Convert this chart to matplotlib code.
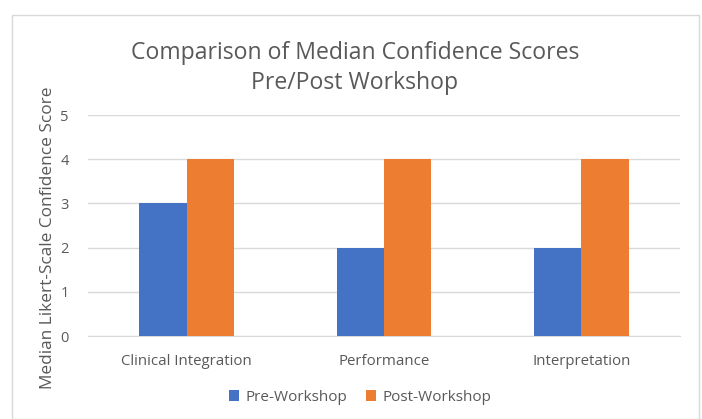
import matplotlib
matplotlib.use("Agg")
import matplotlib.pyplot as plt
import numpy as np
from matplotlib.patches import Rectangle

categories = ["Clinical Integration", "Performance", "Interpretation"]
pre = [3, 2, 2]
post = [4, 4, 4]
yticks = [0, 1, 2, 3, 4, 5]

plt.rcParams['font.family'] = ['Open Sans', 'DejaVu Sans']
txt = '#595959'

fig = plt.figure(figsize=(7.02, 4.19), dpi=100)
fig.patches.append(Rectangle((12/702, 0), (699-12)/702, 1 - 15/419, transform=fig.transFigure,
                             fill=False, edgecolor='#D9D9D9', linewidth=1))
ax = fig.add_axes([88/702, 1 - 336/419, (680-88)/702, (336-115)/419])

x = np.arange(len(categories))
w = 0.24
ax.bar(x - w/2, pre, w, color='#4472C4', label='Pre-Workshop', zorder=3)
ax.bar(x + w/2, post, w, color='#ED7D31', label='Post-Workshop', zorder=3)

ax.set_xlim(-0.5, 2.5)
ax.set_ylim(0, 5)
ax.set_yticks(yticks)
ax.set_xticks(x)
ax.set_xticklabels(categories)
ax.yaxis.grid(True, color='#D9D9D9', linewidth=1, zorder=0)
for s in ['top', 'right', 'left']:
    ax.spines[s].set_visible(False)
ax.spines['bottom'].set_color('#D9D9D9')
ax.tick_params(axis='both', length=0, colors=txt)
ax.tick_params(axis='x', pad=13, labelsize=10.8)
ax.tick_params(axis='y', pad=14, labelsize=10.5)

fig.text(48/702, 1 - 238/419, 'Median Likert-Scale Confidence Score', rotation=90,
         ha='center', va='center', fontsize=12.4, color=txt)

fig.text(355/702, 1 - 68/419, 'Comparison of Median Confidence Scores\nPre/Post Workshop',
         ha='center', va='center', fontsize=16.6, color=txt, linespacing=1.28)

ax.legend(loc='center', bbox_to_anchor=(360/702, 1 - 397/419), bbox_transform=fig.transFigure,
          ncol=2, frameon=False, fontsize=11, labelcolor=txt, handlelength=0.7, handleheight=0.7,
          columnspacing=1.2, handletextpad=0.4)

fig.savefig('out.png', dpi=100)
